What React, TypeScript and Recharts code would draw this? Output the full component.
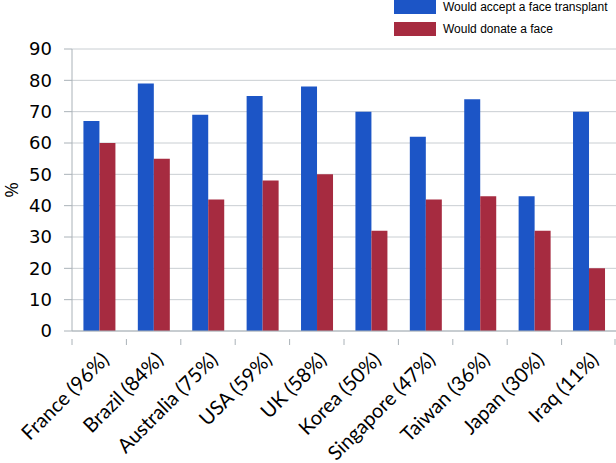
import React from "react";
import { BarChart, Bar, XAxis, YAxis, CartesianGrid, Label } from "recharts";

const countries = [
  "France (96%)",
  "Brazil (84%)",
  "Australia (75%)",
  "USA (59%)",
  "UK (58%)",
  "Korea (50%)",
  "Singapore (47%)",
  "Taiwan (36%)",
  "Japan (30%)",
  "Iraq (11%)",
];
const acceptValues = [67, 79, 69, 75, 78, 70, 62, 74, 43, 70];
const donateValues = [60, 55, 42, 48, 50, 32, 42, 43, 32, 20];
const yTicks = [0, 10, 20, 30, 40, 50, 60, 70, 80, 90];

const series = [
  { key: "accept", name: "Would accept a face transplant", color: "#1c55c6" },
  { key: "donate", name: "Would donate a face", color: "#a62b40" },
];

const data = countries.map((c, i) => ({
  country: c,
  accept: acceptValues[i],
  donate: donateValues[i],
}));

const W = 616;
const H = 463;
const PLOT_LEFT = 72;
const PLOT_RIGHT = 0;
const BAND = (W - PLOT_LEFT - PLOT_RIGHT) / countries.length;
const AXIS_COLOR = "#aab2b8";
const GRID_COLOR = "#c9ced2";

const XTick = (props: any) => {
  const { x, y, payload, index } = props;
  const left = x - BAND / 2;
  const right = x + BAND / 2;
  const tx = x + 11;
  const ty = y + 22;
  return (
    <g>
      <line x1={left} y1={y} x2={left} y2={y + 6} stroke={AXIS_COLOR} strokeWidth={1} />
      {index === countries.length - 1 && (
        <line x1={right - 1} y1={y} x2={right - 1} y2={y + 6} stroke={AXIS_COLOR} strokeWidth={1} />
      )}
      <text
        x={tx}
        y={ty}
        transform={`rotate(-45, ${tx}, ${ty})`}
        textAnchor="end"
        fontFamily="Lato, 'Open Sans', sans-serif"
        fontSize={20}
        fill="#000"
      >
        {payload.value}
      </text>
    </g>
  );
};

export default function App() {
  return (
    <div style={{ position: "absolute", left: 0, top: 0, width: W, height: H, background: "#fff" }}>
      <BarChart
        width={W}
        height={H}
        data={data}
        margin={{ top: 49, right: PLOT_RIGHT, left: 0, bottom: 0 }}
        barCategoryGap="21%"
        barGap={0}
      >
        <CartesianGrid vertical={false} stroke={GRID_COLOR} />
        <XAxis
          dataKey="country"
          interval={0}
          height={132}
          tickLine={false}
          axisLine={{ stroke: AXIS_COLOR }}
          tick={<XTick />}
        />
        <YAxis
          width={PLOT_LEFT}
          domain={[0, 90]}
          ticks={yTicks}
          interval={0}
          tickSize={8}
          tickMargin={12}
          tickLine={{ stroke: AXIS_COLOR }}
          axisLine={{ stroke: AXIS_COLOR }}
          tick={{ fontFamily: "'DejaVu Sans', sans-serif", fontSize: 18, fill: "#000" }}
        >
          <Label
            value="%"
            angle={-90}
            position="insideLeft"
            offset={11}
            style={{ fontFamily: "'Open Sans', sans-serif", fontSize: 19, fill: "#000", textAnchor: "middle" }}
          />
        </YAxis>
        {series.map((s) => (
          <Bar key={s.key} dataKey={s.key} name={s.name} fill={s.color} isAnimationActive={false} />
        ))}
      </BarChart>
      <div style={{ position: "absolute", left: 394, top: 0 }}>
        {series.map((s, i) => (
          <div key={s.key} style={{ display: "flex", alignItems: "center", height: 22, marginTop: i === 0 ? -4 : 0 }}>
            <div style={{ width: 42, height: 14, background: s.color }} />
            <span
              style={{
                marginLeft: 7,
                fontFamily: "'Liberation Sans', Arial, sans-serif",
                fontSize: 12,
                color: "#000",
                whiteSpace: "nowrap",
              }}
            >
              {s.name}
            </span>
          </div>
        ))}
      </div>
    </div>
  );
}
